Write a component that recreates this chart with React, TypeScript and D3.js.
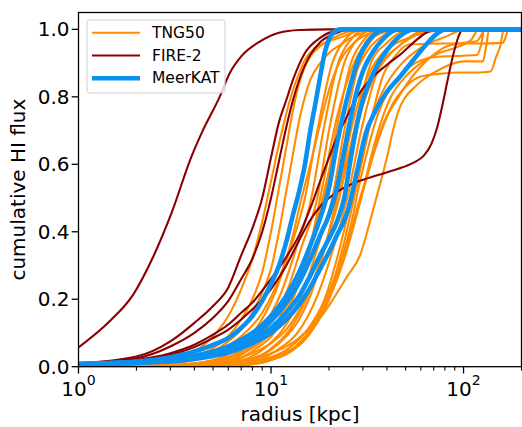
import React from 'react';
import * as d3 from 'd3';

const W = 522;
const H = 427;

// ---------- data: [radius kpc, cumulative HI flux] ----------
const fireA = [[1,0.057],[1.46,0.136],[1.92,0.213],[2.44,0.325],[3.04,0.455],[3.86,0.623],[4.42,0.70],[5.41,0.80],[6.1,0.87],[7,0.92],[8.7,0.963],[11,0.99],[14,0.998],[20,1],[200,1]];
const fireB = [[1,0.01],[2,0.03],[3,0.075],[4,0.13],[5,0.18],[6,0.235],[7,0.33],[8,0.41],[9,0.5],[10,0.62],[11,0.725],[12,0.79],[13,0.85],[15,0.93],[18,0.975],[22,0.997],[25,1],[200,1]];
const fireC = [[1,0.01],[2,0.025],[3,0.06],[4,0.1],[5,0.145],[6,0.195],[7,0.26],[8,0.32],[9,0.4],[10,0.5],[11,0.61],[12,0.71],[13,0.79],[14,0.85],[16,0.925],[18,0.962],[22,0.99],[26,1],[200,1]];
const fireD = [[1,0.008],[2,0.02],[3,0.035],[4,0.058],[5,0.085],[6,0.11],[7,0.14],[8,0.17],[10,0.23],[12,0.3],[14,0.375],[16,0.435],[18,0.475],[20,0.5],[23,0.525],[28,0.548],[36,0.568],[45,0.585],[55,0.605],[62,0.625],[68,0.66],[73,0.71],[78,0.78],[82,0.84],[88,0.92],[93,0.97],[97,0.995],[100,1],[200,1]];
const fireE = [[1,0.008],[2,0.02],[3,0.04],[4,0.065],[5,0.095],[6,0.125],[7,0.16],[8,0.19],[10,0.26],[12,0.325],[14,0.39],[16,0.47],[18,0.55],[20,0.62],[22,0.68],[24,0.725],[28,0.8],[32,0.845],[40,0.895],[48,0.93],[56,0.965],[64,0.99],[72,1],[200,1]];

const meerA = [[1,0.008],[2,0.015],[3,0.028],[4,0.045],[5,0.065],[6,0.085],[7,0.115],[8,0.15],[9,0.195],[10,0.245],[11,0.3],[12,0.37],[13,0.45],[14,0.52],[15,0.6],[16,0.7],[17,0.78],[18,0.86],[19,0.93],[20,0.97],[21,0.99],[23,1],[200,1]];
const meerB = [[1,0.008],[2,0.014],[3,0.022],[4,0.032],[5,0.045],[6,0.06],[7,0.08],[8,0.1],[10,0.15],[12,0.21],[14,0.28],[16,0.36],[18,0.44],[20,0.53],[22,0.66],[24,0.76],[26,0.84],[28,0.9],[30,0.94],[33,0.975],[36,0.993],[40,1],[200,1]];
const meerC = [[1,0.008],[2,0.013],[3,0.02],[4,0.03],[5,0.042],[6,0.055],[7,0.072],[8,0.09],[10,0.135],[12,0.19],[14,0.25],[16,0.32],[18,0.39],[20,0.45],[22,0.53],[24,0.64],[26,0.74],[28,0.82],[30,0.875],[34,0.935],[38,0.97],[42,0.992],[46,1],[200,1]];
const meerD = [[1,0.007],[2,0.012],[3,0.018],[4,0.026],[5,0.036],[6,0.048],[7,0.062],[8,0.078],[10,0.115],[12,0.16],[14,0.21],[16,0.27],[18,0.33],[20,0.38],[22,0.43],[24,0.5],[26,0.62],[28,0.72],[30,0.79],[34,0.87],[38,0.92],[43,0.96],[48,0.985],[55,1],[200,1]];
const meerE = [[1,0.007],[2,0.011],[3,0.016],[4,0.023],[5,0.032],[6,0.042],[7,0.055],[8,0.07],[10,0.1],[12,0.14],[14,0.185],[16,0.235],[18,0.29],[20,0.34],[22,0.39],[25,0.46],[28,0.58],[31,0.69],[35,0.76],[40,0.815],[46,0.855],[55,0.91],[64,0.955],[72,0.985],[80,1],[200,1]];

const tng01 = [[1,0.002],[2,0.008],[3,0.02],[4,0.045],[5,0.09],[6,0.15],[7,0.23],[8,0.32],[9,0.43],[10,0.55],[11,0.66],[12,0.75],[13,0.82],[14,0.87],[15,0.91],[17,0.945],[20,0.965],[24,0.98],[28,0.995],[32,1],[200,1]];
const tng02 = [[1,0.002],[2,0.006],[3,0.015],[4,0.03],[5,0.055],[6,0.09],[7,0.14],[8,0.2],[9,0.28],[10,0.4],[11,0.53],[12,0.65],[13,0.76],[14,0.84],[15,0.89],[16,0.92],[18,0.95],[20,0.968],[23,0.985],[26,0.995],[30,1],[200,1]];
const tng03 = [[1,0.002],[2,0.005],[3,0.012],[4,0.025],[5,0.045],[6,0.075],[7,0.11],[8,0.16],[9,0.22],[10,0.29],[11,0.4],[12,0.52],[13,0.63],[14,0.73],[15,0.8],[16,0.85],[18,0.9],[20,0.93],[23,0.955],[26,0.975],[30,0.99],[35,1],[200,1]];
const tng04 = [[1,0.001],[3,0.005],[5,0.02],[6.5,0.05],[8.3,0.11],[10.5,0.22],[12.6,0.35],[15,0.5],[17.4,0.7],[20.8,0.9],[24.3,0.97],[29,1],[200,1]];
const tng05 = [[1,0.001],[3,0.004],[5.5,0.02],[7,0.05],[8.9,0.11],[11.3,0.22],[13.5,0.35],[16.2,0.5],[18.7,0.7],[22.3,0.9],[26,0.97],[31,1],[200,1]];
const tng06 = [[1,0.001],[3,0.004],[6,0.02],[7.6,0.05],[9.6,0.12],[12.2,0.23],[14.5,0.36],[17.4,0.5],[20,0.7],[24,0.9],[28,0.97],[34,1],[200,1]];
const tng07 = [[1,0.001],[3,0.003],[6.5,0.02],[8.2,0.05],[10.4,0.1],[13.2,0.21],[15.8,0.34],[18.9,0.5],[21.8,0.7],[26,0.9],[30.5,0.97],[36,1],[200,1]];
const tng08 = [[1,0.001],[3,0.003],[7.1,0.02],[9,0.05],[11.5,0.11],[14.6,0.22],[17.4,0.35],[20.8,0.5],[24,0.7],[28.7,0.9],[33.5,0.97],[40,1],[200,1]];
const tng09 = [[1,0.001],[3,0.002],[7.7,0.02],[9.8,0.05],[12.5,0.11],[15.8,0.22],[18.9,0.35],[22.6,0.5],[27,0.7],[33,0.9],[40,0.96],[52,1],[200,1]];
const tng10 = [[1,0.001],[3,0.002],[8.5,0.02],[10.8,0.05],[13.7,0.1],[17.4,0.21],[20.8,0.34],[24.9,0.5],[29.4,0.7],[36,0.88],[46,0.95],[66,1],[200,1]];
const tng11 = [[1,0.002],[3,0.01],[5,0.04],[7,0.09],[9,0.16],[11,0.26],[13,0.39],[14,0.47],[16,0.6],[18,0.72],[20,0.82],[23,0.91],[27,0.96],[33,0.99],[40,1],[200,1]];
const tng12 = [[1,0.001],[4,0.01],[6,0.03],[8,0.06],[10,0.11],[12,0.18],[14,0.26],[16,0.35],[18,0.47],[20,0.58],[22,0.68],[25,0.8],[28,0.88],[32,0.94],[38,0.98],[45,1],[200,1]];
const tng13 = [[1,0.001],[5,0.01],[8,0.04],[10,0.07],[12,0.11],[15,0.2],[18,0.31],[20,0.4],[22,0.5],[25,0.62],[28,0.72],[32,0.82],[36,0.88],[42,0.93],[50,0.965],[60,0.99],[70,1],[200,1]];
const tng14 = [[1,0.001],[6,0.01],[9,0.03],[12,0.06],[15,0.1],[18,0.16],[21,0.23],[24,0.32],[27,0.42],[30,0.52],[33,0.62],[37,0.72],[42,0.8],[50,0.86],[60,0.9],[75,0.93],[90,0.945],[100,0.955],[110,0.97],[120,1],[200,1]];
const tng15 = [[1,0.001],[4,0.008],[6,0.025],[8,0.055],[10,0.1],[12,0.165],[14,0.25],[16,0.36],[18,0.5],[20,0.63],[22,0.74],[25,0.85],[28,0.92],[32,0.965],[38,0.99],[45,1],[200,1]];
const tng16 = [[1,0.001],[5,0.006],[8,0.025],[10,0.05],[12,0.09],[14,0.14],[16,0.21],[18,0.3],[20,0.4],[22,0.5],[24,0.6],[26,0.7],[29,0.8],[33,0.88],[38,0.93],[45,0.96],[55,0.98],[70,0.995],[85,1],[200,1]];
const tng17 = [[1,0],[6,0.003],[8,0.01],[10,0.025],[12,0.048],[14,0.085],[16,0.115],[18,0.145],[21,0.2],[25,0.27],[29,0.33],[33,0.44],[36,0.52],[40,0.62],[43,0.7],[46,0.76],[50,0.8],[56,0.83],[63,0.855],[72,0.875],[85,0.895],[100,0.905],[126,0.905],[131,0.95],[136,1],[200,1]];
const tng18 = [[1,0],[6,0.005],[9,0.02],[12,0.05],[15,0.1],[18,0.17],[22,0.28],[26,0.4],[30,0.52],[35,0.65],[40,0.74],[46,0.8],[51,0.84],[60,0.89],[70,0.925],[82,0.95],[100,0.96],[117,0.965],[123,0.98],[128,1],[200,1]];
const tng19 = [[1,0],[7,0.005],[10,0.02],[13,0.05],[16,0.1],[19,0.17],[22,0.26],[25,0.36],[28,0.47],[32,0.58],[36,0.68],[42,0.77],[50,0.83],[60,0.86],[75,0.868],[95,0.872],[120,0.872],[138,0.875],[148,0.92],[155,0.95],[162,1],[200,1]];
const tng20 = [[1,0],[6,0.004],[9,0.015],[12,0.04],[15,0.08],[18,0.15],[21,0.25],[24,0.37],[27,0.5],[30,0.62],[34,0.76],[38,0.86],[44,0.92],[52,0.955],[80,0.958],[120,0.958],[160,0.96],[166,0.98],[171,1],[200,1]];
const tng21 = [[1,0],[8,0.008],[11,0.03],[14,0.07],[17,0.13],[20,0.21],[23,0.31],[26,0.42],[29,0.55],[32,0.65],[36,0.75],[41,0.82],[48,0.87],[56,0.9],[66,0.915],[80,0.92],[100,0.922],[118,0.925],[124,0.96],[128,1],[200,1]];
const tng22 = [[1,0],[7,0.005],[10,0.02],[13,0.05],[16,0.11],[19,0.2],[22,0.32],[25,0.45],[28,0.58],[31,0.68],[35,0.77],[40,0.84],[48,0.9],[58,0.94],[70,0.965],[82,0.98],[92,0.993],[100,1],[200,1]];

const tngCurves = [tng01,tng02,tng03,tng04,tng05,tng06,tng07,tng08,tng09,tng10,tng11,tng12,tng13,tng14,tng15,tng16,tng17,tng18,tng19,tng20,tng21,tng22];
const fireCurves = [fireA, fireB, fireC, fireD, fireE];
const meerkatCurves = [meerA, meerB, meerC, meerD, meerE];

const seriesNames = ['TNG50', 'FIRE-2', 'MeerKAT'];
const seriesColors = ['#ff8c00', '#8b0000', '#0a90f0'];
const seriesWidths = [2.1, 2.1, 4.6];

const yTicks = [0, 0.2, 0.4, 0.6, 0.8, 1.0];
const xMajorTicks = [1, 10, 100];
const xMajorExp = ['0', '1', '2'];
const xMinorTicks = [2,3,4,5,6,7,8,9,20,30,40,50,60,70,80,90,200];

// ---------- layout ----------
const L = 78.5, R = 521.5, T = 12.5, B = 366.7;
const xScale = d3.scaleLog().domain([1, 200]).range([L, R]);
const yScale = d3.scaleLinear().domain([0, 1.05]).range([B, T]);

export default function App() {
  const line = d3.line<number[]>()
    .x(d => xScale(d[0]))
    .y(d => yScale(d[1]))
    .curve(d3.curveMonotoneX);

  const groups = [tngCurves, fireCurves, meerkatCurves];
  const font = 'DejaVu Sans, sans-serif';

  return (
    <svg width={W} height={H} style={{ position: 'absolute', left: 0, top: 0, background: '#fff' }} fontFamily={font}>
      <defs>
        <clipPath id="plotclip">
          <rect x={L} y={T} width={R - L} height={B - T} />
        </clipPath>
      </defs>
      <g clipPath="url(#plotclip)">
        {groups.map((g, gi) => (
          <g key={gi}>
            {g.map((c, i) => (
              <path key={i} d={line(c as number[][]) || ''} fill="none" stroke={seriesColors[gi]}
                strokeWidth={seriesWidths[gi]} strokeLinejoin="round" />
            ))}
          </g>
        ))}
      </g>
      {/* frame */}
      <rect x={L} y={T} width={R - L} height={B - T} fill="none" stroke="#000" strokeWidth={1.3} />
      {/* y ticks */}
      {yTicks.map((v, i) => (
        <g key={i}>
          <line x1={L - 6.8} x2={L} y1={yScale(v)} y2={yScale(v)} stroke="#000" strokeWidth={1.3} />
          <text x={L - 9} y={yScale(v)} textAnchor="end" dominantBaseline="central" fontSize={20}>{v.toFixed(1)}</text>
        </g>
      ))}
      {/* x ticks */}
      {xMajorTicks.map((v, i) => (
        <g key={i}>
          <line x1={xScale(v)} x2={xScale(v)} y1={B} y2={B + 6.8} stroke="#000" strokeWidth={1.3} />
          <text x={xScale(v)} y={396} textAnchor="middle" fontSize={20}>10<tspan dy={-11.5} fontSize={14}>{xMajorExp[i]}</tspan></text>
        </g>
      ))}
      {xMinorTicks.map((v, i) => (
        <line key={i} x1={xScale(v)} x2={xScale(v)} y1={B} y2={B + 3.9} stroke="#000" strokeWidth={1.1} />
      ))}
      {/* axis labels */}
      <text x={(L + R) / 2} y={421} textAnchor="middle" fontSize={20}>radius [kpc]</text>
      <text transform={`translate(25,${(T + B) / 2}) rotate(-90)`} textAnchor="middle" fontSize={20}>cumulative HI flux</text>
      {/* legend */}
      <rect x={87} y={20} width={138} height={73} rx={3} fill="#fff" fillOpacity={0.8} stroke="#cccccc" strokeWidth={1} />
      {seriesNames.map((n, i) => {
        const y = 32.7 + i * 22.8;
        return (
          <g key={n}>
            <line x1={92} x2={140} y1={y} y2={y} stroke={seriesColors[i]} strokeWidth={seriesWidths[i]} />
            <text x={152} y={y} dominantBaseline="central" fontSize={15.5}>{n}</text>
          </g>
        );
      })}
    </svg>
  );
}
